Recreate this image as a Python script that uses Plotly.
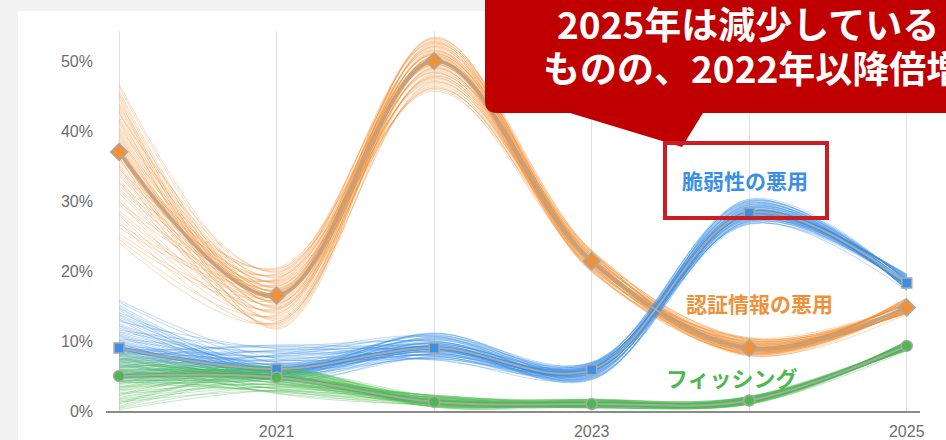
import plotly.graph_objects as go

W, H = 946, 440
ML, MR, MT, MB = 106, 26, 31, 29
PW = W - ML - MR
PH = H - MT - MB

# ---------------- data ----------------
years = [2020, 2021, 2022, 2023, 2024, 2025]
x_tick_text = ["", "2021", "", "2023", "", "2025"]
y_tick_vals = [0, 10, 20, 30, 40, 50]
y_tick_text = ["0%", "10%", "20%", "30%", "40%", "50%"]

cred = [37.0, 16.5, 50.0, 21.4, 9.0, 14.8]          # 認証情報の悪用
cred_lo = [23.5, 11.5, 45.5, 19.8, 7.8, 13.8]
cred_hi = [47.0, 20.5, 53.5, 23.0, 10.5, 16.2]

vuln = [9.0, 6.0, 9.0, 5.9, 28.3, 18.3]              # 脆弱性の悪用
vuln_lo = [4.0, 4.3, 7.2, 4.4, 26.6, 17.2]
vuln_hi = [16.0, 9.5, 11.2, 7.0, 30.3, 19.6]

phish = [5.0, 4.8, 1.3, 1.0, 1.5, 9.3]               # フィッシング
phish_lo = [0.0, 2.4, 0.5, 0.4, 0.9, 8.6]
phish_hi = [8.6, 6.4, 2.3, 1.7, 2.1, 10.0]

label_vuln = "脆弱性の悪用"
label_cred = "認証情報の悪用"
label_phish = "フィッシング"
callout_1 = "2025年は減少している"
callout_2 = "ものの、2022年以降倍増"

C_ORANGE = "#f0913a"
C_BLUE = "#3b8fe5"
C_GREEN = "#4cb84f"
C_GRAY = "#a8a8a8"
C_RED = "#c00000"

N_LINES = 75
ALPHAS = [0.6180339, 0.4142136, 0.7320508, 0.2360680, 0.3166248, 0.5615528]


def ensemble(center, lo, hi, n, p=1.5):
    out = []
    for k in range(n):
        vals = []
        for j in range(len(center)):
            s = 2 * (((k + 1) * ALPHAS[j]) % 1.0) - 1
            u = (abs(s) ** p) * (1 if s >= 0 else -1)
            if u >= 0:
                v = center[j] + u * (hi[j] - center[j])
            else:
                v = center[j] + u * (center[j] - lo[j])
            vals.append(v)
        out.append(vals)
    return out


def px(x):
    return (x - ML) / PW


def py(y):
    return (H - MB - y) / PH


fig = go.Figure()

series = [
    (cred, cred_lo, cred_hi, C_ORANGE, "diamond", 13),
    (vuln, vuln_lo, vuln_hi, C_BLUE, "square", 10),
    (phish, phish_lo, phish_hi, C_GREEN, "circle", 11),
]

for center, lo, hi, col, sym, msize in series:
    for vals in ensemble(center, lo, hi, N_LINES):
        fig.add_trace(go.Scatter(
            x=years, y=vals, mode="lines",
            line=dict(color=col, width=1, shape="spline", smoothing=1.0),
            opacity=0.33, hoverinfo="skip", showlegend=False))
    fig.add_trace(go.Scatter(
        x=years, y=center, mode="lines",
        line=dict(color=col, width=4, shape="spline", smoothing=1.0),
        opacity=0.7, hoverinfo="skip", showlegend=False))

for center, lo, hi, col, sym, msize in series:
    fig.add_trace(go.Scatter(
        x=years, y=center, mode="lines+markers",
        line=dict(color=C_GRAY, width=2, shape="spline", smoothing=1.0),
        marker=dict(symbol=sym, size=msize, color=col,
                    line=dict(color=C_GRAY, width=1.5)),
        hoverinfo="skip", showlegend=False))

shapes = [
    dict(type="rect", xref="paper", yref="paper", layer="below",
         x0=px(18), x1=px(970), y0=py(11), y1=py(460),
         fillcolor="white", line=dict(width=0)),
    dict(type="path", xref="paper", yref="paper", layer="above",
         path=(f"M {px(485)} {py(-10)} L {px(485)} {py(101)} "
               f"Q {px(485)} {py(113)} {px(497)} {py(113)} "
               f"L {px(570)} {py(113)} L {px(682)} {py(147)} "
               f"L {px(703)} {py(113)} L {px(970)} {py(113)} "
               f"L {px(970)} {py(-10)} Z"),
         fillcolor=C_RED, line=dict(width=0)),
    dict(type="rect", xref="paper", yref="paper", layer="above",
         x0=px(665), x1=px(827), y0=py(143), y1=py(218),
         fillcolor="rgba(0,0,0,0)", line=dict(color="#cc1d24", width=4)),
]

CJK = "Noto Sans CJK JP"
annotations = [
    dict(text=callout_1,
         xref="paper", yref="paper", x=px(555), y=py(23),
         xanchor="left", yanchor="middle", showarrow=False,
         font=dict(family=CJK, size=37, color="white", weight="bold")),
    dict(text=callout_2,
         xref="paper", yref="paper", x=px(541), y=py(67),
         xanchor="left", yanchor="middle", showarrow=False,
         font=dict(family=CJK, size=37, color="white", weight="bold")),
    dict(text=label_vuln, xref="paper", yref="paper", x=px(745), y=py(180),
         xanchor="center", yanchor="middle", showarrow=False,
         font=dict(family=CJK, size=21, color=C_BLUE, weight="bold")),
    dict(text=label_cred, xref="paper", yref="paper", x=px(759), y=py(303),
         xanchor="center", yanchor="middle", showarrow=False,
         font=dict(family=CJK, size=21, color=C_ORANGE, weight="bold")),
    dict(text=label_phish, xref="paper", yref="paper", x=px(732), y=py(377),
         xanchor="center", yanchor="middle", showarrow=False,
         font=dict(family=CJK, size=22, color=C_GREEN, weight="bold")),
]

fig.update_layout(
    width=W, height=H,
    margin=dict(l=ML, r=MR, t=MT, b=MB, pad=0, autoexpand=False),
    paper_bgcolor="#f2f2f2", plot_bgcolor="white",
    showlegend=False, hovermode=False,
    shapes=shapes, annotations=annotations,
    font=dict(family="Liberation Sans", size=16, color="#6e6e6e"),
    xaxis=dict(range=[2019.917, 2025.084], tickvals=years, ticktext=x_tick_text,
               showgrid=True, gridcolor="#e2e2e2", gridwidth=1,
               showline=True, linecolor="#8a8a8a", linewidth=1.5,
               zeroline=False, ticks="", ticklabelstandoff=5, automargin=False,
               tickfont=dict(family="Liberation Sans", size=16, color="#6e6e6e")),
    yaxis=dict(range=[0, 54.3], tickvals=y_tick_vals, ticktext=y_tick_text,
               showgrid=False, showline=False, zeroline=False, ticks="",
               ticklabelstandoff=12, automargin=False,
               tickfont=dict(family="Liberation Sans", size=16, color="#6e6e6e")),
)

fig.write_html(
    "out.html",
    config={"displayModeBar": False, "staticPlot": True},
    post_script="document.body.style.margin='0';document.body.style.background='#f2f2f2';",
)
